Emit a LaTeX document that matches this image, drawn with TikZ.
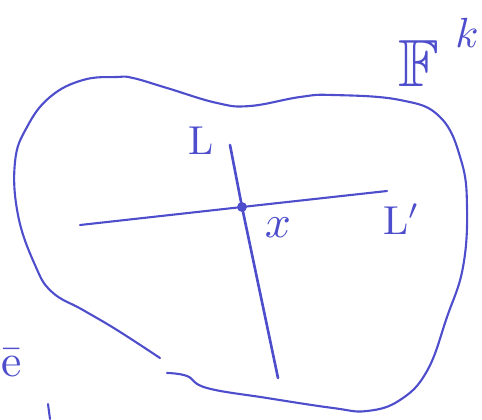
\documentclass[tikz,border=0pt]{standalone}
\usepackage{amsmath,amssymb}
\usepackage{xcolor}
\usepackage{tikz}
\usetikzlibrary{positioning,calc}

\definecolor{ink}{RGB}{78,78,205}

\begin{document}
\begin{tikzpicture}[
    x=0.02cm, y=-0.02cm,
    pen/.style={draw=ink, line width=1.2pt, line cap=round, line join=round},
    lineto/.style={draw=ink, line width=1.5pt, line cap=round},
    hand/.style={text=ink, inner sep=0pt}
]
\useasboundingbox (0,0) rectangle (482,419);

% the region
\draw[pen] plot[smooth, tension=0.7] coordinates {
  (167,373) (187,376) (207,388) (267,398) (333,408) (367,411) (400,400)
  (427,371) (447,317) (463,267) (467,207) (461,160) (440,117) (400,100)
  (333,95) (300,97) (250,106) (217,103) (167,88) (133,78) (117,77)
  (83,80) (50,97) (27,127) (15,162) (18,215) (35,265) (52,292)
  (83,310) (117,330) (160,358)};

% the two lines through x
\coordinate (ptx) at (242,207);
\coordinate (Ltop) at (230,145);
\coordinate (Lbot) at (278,378);
\coordinate (Lpleft) at (80,225);
\coordinate (Lpright) at (387,191);

\draw[lineto] (Ltop) -- (ptx) -- (Lbot);
\draw[pen] (Lpleft) -- (ptx) -- (Lpright);
\fill[ink] (ptx) circle (2.8pt);

\node[hand, scale=2.3] (Llab) at (201,141) {L};
\node[hand, scale=2.3] (Lplab) at (402,219) {L$'$};
\node[hand, scale=2.6] (xlab) at (278,228) {$x$};
\node[hand, scale=3.8] (Flab) at (419,64) {$\mathbb{F}$};
\node[hand, scale=2.4] (klab) at (467,33) {$k$};

% marks at the lower left edge
\node[hand, scale=2.6, anchor=west] (elab) at (1,363) {\=e};
\draw[pen] (48,404) -- (50,419);
\end{tikzpicture}
\end{document}
